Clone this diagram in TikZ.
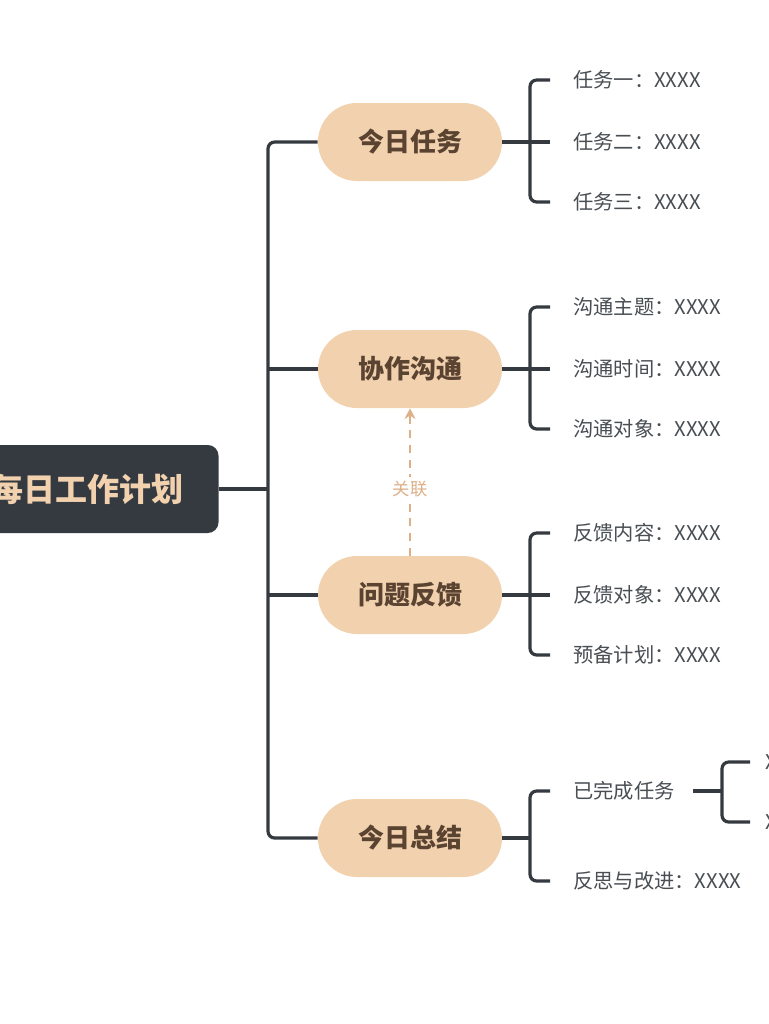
\documentclass[tikz,border=0pt]{standalone}
\usepackage{fontspec}
\setmainfont{Noto Sans CJK SC}
\usetikzlibrary{positioning,calc,arrows.meta}
\definecolor{ink}{HTML}{353A40}
\definecolor{sand}{HTML}{F1D1AE}
\definecolor{brownt}{HTML}{5A4331}
\definecolor{link}{HTML}{DDB088}
\tikzset{
  branch/.style={rounded corners=39*0.75pt,fill=sand,minimum width=184*0.75pt,minimum height=78*0.75pt,
    font=\fontsize{19.5pt}{22pt}\selectfont\bfseries,text=brownt},
  leaf/.style={anchor=west,inner sep=0pt,font=\fontsize{15.2pt}{17pt}\selectfont,text=ink!90},
  wire/.style={draw=ink,line width=2.4pt,rounded corners=5pt},
}
\begin{document}
\begin{tikzpicture}[x=0.75pt,y=-0.75pt]
	\useasboundingbox (0,0) rectangle (768,1024);
	\fill[white] (0,0) rectangle (768,1024);
	% root
	\node[fill=ink,rounded corners=8pt,minimum width=273*0.75pt,minimum height=88*0.75pt,
		text=sand,font=\fontsize{24pt}{26pt}\selectfont\bfseries] (root) at (82,489) {\hspace*{8pt}每日工作计划};
	% branches
	\node[branch] (b1) at (410,142) {今日任务};
	\node[branch] (b2) at (410,369) {协作沟通};
	\node[branch] (b3) at (410,595) {问题反馈};
	\node[branch] (b4) at (410,838) {今日总结};
	\coordinate (t) at (268,489);
	\draw[wire] (root.east) -- (t);
	\draw[wire] (b1.west) -- (268,142) -- (268,838) -- (b4.west);
	\draw[wire] (268,369) -- (b2.west);
	\draw[wire] (268,595) -- (b3.west);
	% leaves
	\foreach \b/\y/\ya/\yb/\txta/\txtb/\txtc in {
		b1/142/80/202/任务一：XXXX/任务二：XXXX/任务三：XXXX,
		b2/369/307/429/沟通主题：XXXX/沟通时间：XXXX/沟通对象：XXXX,
		b3/595/533/655/反馈内容：XXXX/反馈对象：XXXX/预备计划：XXXX}{
		\node[leaf] (\b a) at (573,\ya) {\txta};
		\node[leaf] (\b b) at (573,\y) {\txtb};
		\node[leaf] (\b c) at (573,\yb) {\txtc};
		\draw[wire] (\b.east) -- (550,\y);
		\draw[wire] (550,\ya) -- (530,\ya) -- (530,\yb) -- (550,\yb);
	}
	\node[leaf] (b4a) at (573,791) {已完成任务};
	\node[leaf] (b4b) at (573,881) {反思与改进：XXXX};
	\draw[wire] (b4.east) -- (530,838);
	\draw[wire] (550,791) -- (530,791) -- (530,881) -- (550,881);
	\node[leaf] (b4c) at (765,762) {XXXX};
	\node[leaf] (b4d) at (765,822) {XXXX};
	\draw[wire] (693,791) -- (722,791);
	\draw[wire] (750,762) -- (722,762) -- (722,822) -- (750,822);
	% link
	\draw[link,line width=1.8pt,dash pattern=on 6pt off 5pt,-{Stealth[length=8pt,width=8pt]}] (b3.north) -- node[fill=white,text=link,
		font=\fontsize{13pt}{15pt}\selectfont,inner sep=3pt,pos=0.45] {关联} (b2.south);
\end{tikzpicture}
\end{document}
